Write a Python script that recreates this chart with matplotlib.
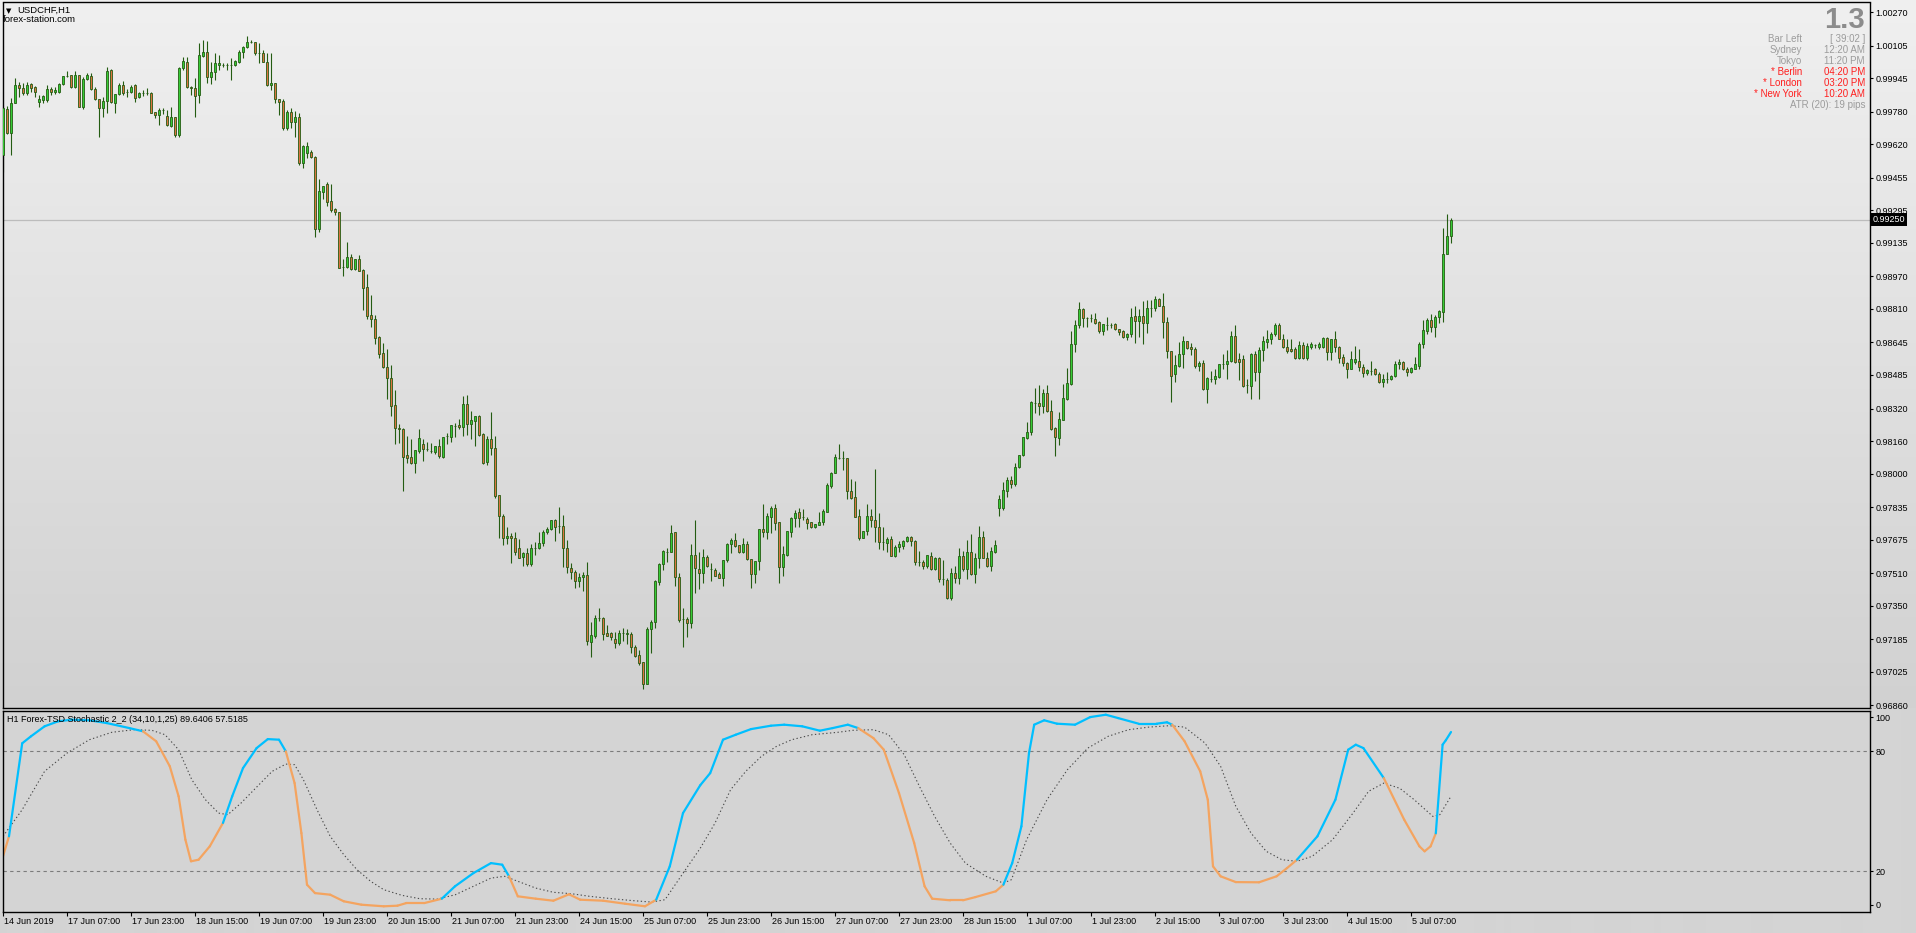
"""
USDCHF H1 candles with the Forex-TSD stochastic panel underneath,
laid out like the MT4 window it was captured from.
"""
import numpy as np
import matplotlib
matplotlib.use("Agg")
import matplotlib.pyplot as plt
from matplotlib.collections import LineCollection

plt.rcParams.update({
    "font.family": ["Liberation Sans", "DejaVu Sans"],
    "font.size": 6.5,
    "axes.linewidth": 1.0,
})

W, H = 1916, 933
WICK = "#245c12"; BULL = "#36cc36"; BEAR = "#dc7440"
UP = "#00bfff"; DN = "#f4a460"; GRY = "#9c9c9c"; RED = "#ff1e1e"

# ---- price data, in points (1e-5) -------------------------------------
opens = [
    99567, 99794, 99676, 99823, 99912, 99897, 99872, 99917, 99902, 99828, 99838, 99838, 99892, 99877, 99877, 99917, 99956, 99961, 99902, 99961,
    99804, 99941, 99956, 99892, 99843, 99799, 99833, 99986, 99823, 99868, 99912, 99877, 99877, 99912, 99853, 99872, 99872, 99872, 99779, 99764,
    99789, 99759, 99710, 99754, 99666, 99995, 100025, 99902, 99897, 99863, 100055, 100074, 99951, 99976, 100010, 100010, 100010, 100010, 100010, 100025,
    100074, 100099, 100123, 100123, 100069, 100069, 100025, 99912, 99922, 99843, 99833, 99700, 99779, 99730, 99754, 99528, 99577, 99582, 99558, 99203,
    99385, 99425, 99341, 99302, 99287, 99016, 99016, 99066, 99006, 99056, 99002, 98918, 98780, 98761, 98672, 98593, 98524, 98470, 98337, 98224,
    98219, 98091, 98082, 98052, 98111, 98146, 98121, 98111, 98106, 98136, 98082, 98185, 98180, 98234, 98239, 98229, 98342, 98244, 98259, 98283,
    98195, 98057, 98170, 98126, 97895, 97791, 97683, 97693, 97683, 97634, 97590, 97609, 97555, 97634, 97634, 97658, 97713, 97727, 97772, 97742,
    97742, 97634, 97535, 97516, 97471, 97491, 97501, 97171, 97201, 97289, 97289, 97216, 97216, 97186, 97166, 97216, 97211, 97211, 97147, 97107,
    97073, 96965, 97235, 97270, 97466, 97555, 97614, 97614, 97713, 97491, 97285, 97285, 97265, 97599, 97531, 97511, 97590, 97531, 97526, 97506,
    97486, 97575, 97654, 97673, 97649, 97614, 97654, 97580, 97506, 97570, 97727, 97713, 97786, 97831, 97762, 97540, 97599, 97713, 97782, 97811,
    97786, 97777, 97762, 97737, 97747, 97762, 97811, 97939, 98003, 98077, 98077, 98077, 97914, 97885, 97791, 97683, 97717, 97791, 97772, 97737,
    97663, 97658, 97678, 97594, 97639, 97644, 97668, 97688, 97668, 97565, 97565, 97545, 97594, 97530, 97585, 97481, 97476, 97388, 97511, 97486,
    97594, 97530, 97614, 97506, 97585, 97688, 97585, 97545, 97614, 97831, 97831, 97914, 97968, 97949, 98033, 98091, 98175, 98205, 98347, 98347,
    98332, 98396, 98308, 98224, 98175, 98264, 98367, 98440, 98637, 98731, 98810, 98765, 98765, 98760, 98746, 98701, 98731, 98731, 98736, 98711,
    98701, 98672, 98686, 98775, 98751, 98775, 98741, 98815, 98815, 98859, 98825, 98746, 98603, 98490, 98529, 98588, 98652, 98623, 98613, 98529,
    98544, 98416, 98465, 98465, 98475, 98539, 98539, 98554, 98677, 98564, 98564, 98436, 98431, 98588, 98500, 98608, 98647, 98662, 98686, 98731,
    98662, 98623, 98613, 98613, 98569, 98632, 98569, 98623, 98632, 98623, 98623, 98667, 98598, 98662, 98623, 98574, 98544, 98514, 98549, 98554,
    98524, 98495, 98505, 98514, 98490, 98451, 98465, 98465, 98480, 98539, 98549, 98514, 98500, 98514, 98529, 98637, 98701, 98756, 98721, 98770,
    98795, 99080, 99169,
]
highs = [
    99808, 99808, 99848, 99946, 99927, 99922, 99927, 99922, 99907, 99863, 99863, 99912, 99902, 99902, 99922, 99956, 99981, 99961, 99981, 99961,
    99951, 99971, 99971, 99902, 99843, 99853, 100000, 99991, 99868, 99922, 99932, 99892, 99912, 99917, 99877, 99887, 99897, 99877, 99779, 99799,
    99799, 99789, 99804, 99754, 100000, 100050, 100050, 99907, 99946, 100118, 100133, 100128, 100025, 100069, 100060, 100020, 100020, 100045, 100035, 100084,
    100104, 100153, 100133, 100123, 100118, 100084, 100069, 100069, 99922, 99843, 99843, 99789, 99799, 99784, 99774, 99617, 99631, 99592, 99563, 99449,
    99415, 99435, 99425, 99307, 99287, 99056, 99139, 99080, 99056, 99075, 99006, 98982, 98879, 98780, 98677, 98642, 98613, 98534, 98411, 98244,
    98224, 98185, 98170, 98116, 98219, 98170, 98156, 98150, 98136, 98170, 98180, 98200, 98239, 98249, 98269, 98382, 98387, 98308, 98283, 98288,
    98200, 98185, 98303, 98185, 97895, 97801, 97737, 97708, 97713, 97678, 97614, 97634, 97654, 97663, 97713, 97722, 97737, 97772, 97777, 97836,
    97796, 97673, 97560, 97526, 97511, 97516, 97565, 97270, 97304, 97339, 97294, 97255, 97221, 97221, 97230, 97240, 97235, 97221, 97157, 97132,
    97073, 97245, 97280, 97476, 97560, 97624, 97634, 97747, 97713, 97511, 97339, 97294, 97654, 97772, 97614, 97629, 97599, 97560, 97535, 97516,
    97575, 97658, 97683, 97708, 97649, 97683, 97668, 97580, 97570, 97727, 97850, 97806, 97841, 97850, 97762, 97644, 97717, 97786, 97821, 97831,
    97826, 97786, 97762, 97752, 97811, 97826, 97954, 98008, 98096, 98146, 98111, 98077, 97973, 97964, 97826, 97717, 97850, 97826, 98023, 97806,
    97737, 97688, 97693, 97649, 97668, 97673, 97693, 97693, 97673, 97619, 97575, 97599, 97614, 97590, 97590, 97575, 97486, 97535, 97545, 97634,
    97619, 97673, 97703, 97609, 97742, 97717, 97614, 97639, 97673, 97895, 97959, 97983, 97988, 98052, 98091, 98180, 98254, 98357, 98421, 98435,
    98416, 98435, 98362, 98229, 98303, 98440, 98519, 98701, 98756, 98844, 98815, 98770, 98785, 98790, 98751, 98736, 98770, 98741, 98741, 98711,
    98706, 98691, 98815, 98825, 98810, 98849, 98854, 98854, 98874, 98864, 98889, 98770, 98603, 98583, 98647, 98677, 98652, 98642, 98623, 98554,
    98559, 98475, 98505, 98514, 98539, 98588, 98608, 98701, 98731, 98593, 98583, 98465, 98593, 98603, 98623, 98677, 98706, 98697, 98741, 98741,
    98686, 98662, 98662, 98623, 98652, 98647, 98642, 98647, 98637, 98647, 98672, 98672, 98662, 98701, 98627, 98588, 98549, 98603, 98627, 98613,
    98539, 98514, 98554, 98519, 98500, 98490, 98500, 98485, 98554, 98564, 98554, 98524, 98524, 98574, 98647, 98756, 98765, 98785, 98780, 98805,
    99208, 99277, 99257,
]
lows = [
    99484, 99671, 99567, 99823, 99853, 99863, 99863, 99877, 99853, 99804, 99823, 99828, 99863, 99868, 99872, 99912, 99951, 99897, 99897, 99804,
    99794, 99936, 99887, 99838, 99656, 99754, 99774, 99823, 99774, 99863, 99863, 99853, 99872, 99828, 99848, 99858, 99863, 99774, 99749, 99715,
    99769, 99710, 99705, 99656, 99656, 99986, 99897, 99863, 99754, 99823, 100050, 99922, 99917, 99936, 99986, 100000, 99986, 99936, 100005, 100020,
    100045, 100094, 100118, 100060, 100020, 100025, 99907, 99887, 99823, 99764, 99690, 99690, 99700, 99656, 99518, 99503, 99553, 99553, 99164, 99189,
    99351, 99317, 99287, 99272, 99011, 98972, 99011, 99002, 99002, 98997, 98805, 98761, 98721, 98637, 98569, 98519, 98367, 98283, 98146, 98150,
    97914, 98052, 98047, 98003, 98101, 98062, 98111, 98101, 98096, 98077, 98077, 98146, 98156, 98180, 98219, 98185, 98190, 98170, 98136, 98185,
    98047, 98042, 98091, 97880, 97683, 97649, 97654, 97560, 97599, 97585, 97545, 97545, 97545, 97599, 97629, 97644, 97703, 97722, 97668, 97708,
    97540, 97511, 97481, 97437, 97442, 97422, 97157, 97098, 97191, 97275, 97181, 97201, 97181, 97142, 97157, 97176, 97162, 97117, 97098, 97058,
    96940, 96965, 97117, 97240, 97452, 97526, 97565, 97614, 97447, 97270, 97147, 97196, 97240, 97412, 97432, 97462, 97540, 97471, 97496, 97486,
    97447, 97565, 97609, 97639, 97609, 97609, 97575, 97437, 97462, 97526, 97688, 97678, 97708, 97722, 97462, 97496, 97594, 97688, 97737, 97737,
    97772, 97727, 97732, 97732, 97747, 97747, 97811, 97929, 98003, 98072, 98018, 97875, 97875, 97786, 97673, 97683, 97698, 97737, 97663, 97629,
    97624, 97614, 97594, 97590, 97614, 97629, 97663, 97644, 97550, 97545, 97530, 97535, 97526, 97526, 97466, 97452, 97383, 97378, 97462, 97457,
    97521, 97481, 97501, 97462, 97535, 97585, 97540, 97521, 97609, 97791, 97821, 97885, 97929, 97939, 98028, 98087, 98170, 98190, 98298, 98288,
    98298, 98303, 98214, 98087, 98141, 98264, 98362, 98435, 98598, 98716, 98721, 98721, 98746, 98736, 98691, 98682, 98706, 98716, 98706, 98682,
    98667, 98657, 98672, 98642, 98672, 98637, 98691, 98770, 98800, 98825, 98667, 98569, 98352, 98451, 98524, 98519, 98613, 98583, 98519, 98505,
    98411, 98347, 98451, 98441, 98470, 98514, 98465, 98549, 98544, 98460, 98426, 98396, 98367, 98456, 98367, 98554, 98618, 98637, 98677, 98662,
    98618, 98593, 98598, 98564, 98564, 98564, 98559, 98613, 98618, 98613, 98618, 98559, 98559, 98598, 98544, 98529, 98470, 98514, 98539, 98505,
    98475, 98485, 98485, 98485, 98446, 98426, 98446, 98460, 98475, 98514, 98510, 98480, 98495, 98514, 98514, 98618, 98686, 98697, 98672, 98741,
    98746, 99080, 99134,
]
closes = [
    99799, 99676, 99823, 99912, 99897, 99872, 99912, 99897, 99877, 99843, 99858, 99892, 99877, 99887, 99917, 99956, 99956, 99902, 99961, 99804,
    99941, 99961, 99892, 99843, 99799, 99833, 99981, 99828, 99868, 99912, 99872, 99877, 99902, 99848, 99872, 99872, 99872, 99774, 99764, 99789,
    99789, 99715, 99754, 99666, 99995, 100030, 99902, 99897, 99858, 100060, 100074, 99951, 99976, 100020, 100020, 100010, 100010, 100010, 100030, 100074,
    100099, 100123, 100123, 100069, 100069, 100025, 99912, 99922, 99843, 99828, 99700, 99779, 99730, 99754, 99528, 99612, 99612, 99558, 99203, 99390,
    99415, 99336, 99297, 99287, 99011, 99016, 99066, 99006, 99056, 98997, 98913, 98775, 98761, 98667, 98588, 98524, 98470, 98332, 98224, 98219,
    98082, 98077, 98052, 98116, 98175, 98121, 98121, 98111, 98136, 98087, 98180, 98185, 98239, 98234, 98229, 98342, 98244, 98264, 98283, 98190,
    98052, 98170, 98126, 97890, 97791, 97683, 97693, 97683, 97614, 97585, 97609, 97555, 97634, 97634, 97658, 97713, 97727, 97772, 97737, 97742,
    97634, 97540, 97516, 97471, 97491, 97501, 97176, 97206, 97289, 97289, 97211, 97201, 97196, 97166, 97216, 97216, 97216, 97147, 97102, 97068,
    96965, 97235, 97270, 97471, 97555, 97619, 97614, 97708, 97491, 97280, 97285, 97265, 97599, 97535, 97511, 97590, 97545, 97531, 97496, 97486,
    97575, 97654, 97673, 97644, 97614, 97654, 97580, 97506, 97570, 97727, 97713, 97791, 97831, 97757, 97540, 97604, 97717, 97782, 97806, 97782,
    97786, 97757, 97737, 97752, 97762, 97816, 97944, 98003, 98082, 98077, 98077, 97914, 97880, 97786, 97683, 97717, 97791, 97772, 97737, 97663,
    97663, 97678, 97594, 97639, 97654, 97668, 97688, 97668, 97565, 97565, 97545, 97599, 97530, 97585, 97481, 97481, 97388, 97511, 97486, 97594,
    97530, 97614, 97506, 97585, 97688, 97585, 97545, 97619, 97649, 97875, 97919, 97968, 97949, 98033, 98091, 98180, 98205, 98352, 98347, 98332,
    98396, 98308, 98219, 98180, 98269, 98372, 98446, 98637, 98731, 98810, 98765, 98765, 98765, 98741, 98701, 98736, 98731, 98731, 98711, 98697,
    98672, 98686, 98770, 98751, 98775, 98741, 98815, 98815, 98859, 98825, 98746, 98603, 98480, 98534, 98588, 98652, 98618, 98613, 98529, 98544,
    98416, 98470, 98465, 98480, 98539, 98539, 98554, 98677, 98549, 98549, 98431, 98436, 98588, 98500, 98608, 98652, 98662, 98686, 98731, 98662,
    98623, 98603, 98603, 98569, 98632, 98569, 98627, 98637, 98632, 98637, 98667, 98598, 98662, 98623, 98569, 98544, 98514, 98564, 98564, 98524,
    98495, 98510, 98505, 98490, 98451, 98465, 98465, 98480, 98539, 98549, 98514, 98500, 98519, 98539, 98637, 98706, 98756, 98721, 98770, 98800,
    99080, 99169, 99250,
]
last_price = 0.99250

price_ticks = [1.00270, 1.00105, 0.99945, 0.99780, 0.99620, 0.99455, 0.99295, 0.99135,
               0.98970, 0.98810, 0.98645, 0.98485, 0.98320, 0.98160, 0.98000, 0.97835,
               0.97675, 0.97510, 0.97350, 0.97185, 0.97025, 0.96860]

time_labels = ["14 Jun 2019", "17 Jun 07:00", "17 Jun 23:00", "18 Jun 15:00", "19 Jun 07:00",
               "19 Jun 23:00", "20 Jun 15:00", "21 Jun 07:00", "21 Jun 23:00", "24 Jun 15:00",
               "25 Jun 07:00", "25 Jun 23:00", "26 Jun 15:00", "27 Jun 07:00", "27 Jun 23:00",
               "28 Jun 15:00", "1 Jul 07:00", "1 Jul 23:00", "2 Jul 15:00", "3 Jul 07:00",
               "3 Jul 23:00", "4 Jul 15:00", "5 Jul 07:00"]
label_every = 16  # bars between time labels

# ---- stochastic (main + signal), bar index / value --------------------
stoch_x = [0, 1.5, 4.8, 7, 10.4, 13.8, 17.1, 21.6, 26, 31.6, 35, 38.3, 41.7, 43.9, 45.6, 47, 48.9,
           51.7, 55, 57.3, 60, 63.4, 66.2, 69, 70.7, 72.9, 74.6, 76, 78, 81.8, 85.2, 89.6, 95.2,
           98.6, 100.8, 105.3, 109.7, 113, 117.6, 122, 124.8, 126.5, 128.7, 133.2, 137.6, 141.5,
           144.3, 150, 155.5, 160.5, 163.3, 166.7, 170, 174.3, 176.8, 180, 183.2, 187, 192, 195.3,
           199.8, 204.2, 207.4, 211.2, 213.8, 217.6, 220.2, 224, 227.8, 230.4, 232.3, 236.8, 240,
           243.1, 248.2, 250.1, 252.3, 254.6, 256.5, 257.8, 260.3, 263.5, 268, 271.8, 275.7, 278.8,
           283.9, 288.4, 291, 292.3, 295.4, 299.3, 301.2, 302.5, 304.4, 308.2, 314, 318.4, 321,
           323.5, 328.6, 333.1, 336.3, 338.2, 340.1, 345.2, 350.3, 354.1, 355.4, 356.9, 358.2,
           359.9, 360.7, 362]
stoch_main = [27.5, 37.5, 84, 87.5, 92.5, 95, 95.8, 95.5, 94.1, 91.6, 90, 85, 72.5, 57.5, 35.8, 25,
              25.8, 32.5, 44.2, 57.5, 71.6, 81.6, 86.1, 85.8, 80, 64.1, 39.1, 13.3, 9.1, 8.3, 5,
              3.3, 2.5, 2.8, 4.1, 4.1, 6.3, 12.5, 19.1, 24.1, 23.3, 17.5, 7.5, 6.3, 5.3, 8.5, 5.8,
              5.3, 3.8, 2.5, 5.8, 22.5, 49.1, 63, 69.1, 85.8, 88.3, 91.1, 92.8, 93.3, 92.5, 90.3,
              91.6, 93.3, 91.6, 86.6, 80.8, 59.1, 34.1, 12.5, 6.3, 5.5, 5.5, 7.1, 10, 13.3, 24.1,
              42.5, 79.1, 93.3, 95.5, 93.8, 93.3, 97.1, 98.3, 96.6, 93.8, 93.8, 94.5, 93.3, 85, 70,
              55.8, 22.5, 17.5, 14.6, 14.5, 17.5, 21.6, 25.8, 37.5, 55.8, 80.8, 83.3, 81.6, 66.6,
              45.8, 32.5, 30, 32.5, 39, 83.3, 85.5, 89.64]
signal_x = [0, 4.8, 10.4, 16, 21.6, 27.2, 32.7, 37.2, 40.5, 43.9, 47.2, 50.6, 53.9, 56.2, 59.5, 64,
            67.3, 70.7, 72.9, 75.1, 78.5, 81.8, 85.2, 88.5, 91.9, 95.2, 99.7, 104.2, 108.6, 113.1,
            117.6, 122, 125.4, 128.7, 133.2, 137.6, 142.1, 146.6, 152.2, 157.7, 162.2, 165.5,
            168.9, 174.3, 178, 181.9, 185.7, 189.6, 193.4, 197.2, 202.3, 208.7, 212.5, 217.6,
            221.4, 225.3, 229.1, 232.9, 236.8, 240.6, 245.7, 250.1, 252.1, 255.9, 261, 266.1,
            271.2, 276.3, 281.4, 286.5, 291.6, 295.4, 300.5, 304.4, 308.2, 312, 315.8, 319.7,
            323.5, 327.3, 332.4, 337.5, 341.4, 345.2, 349.2, 352.8, 357.5, 359.2, 362]
signal = [37.5, 50.8, 70, 79.1, 85.8, 89.5, 90.8, 90.5, 88.3, 80.8, 65.8, 55.8, 49.1, 48.3, 54.1,
          63.3, 70, 73.6, 73.3, 65.8, 50.8, 37.5, 28.3, 20.8, 15, 10.8, 8, 6.3, 6.1, 8.3, 12.5,
          16.6, 17.5, 15, 11.6, 9.5, 8.8, 7.5, 6.3, 5.3, 4.6, 5.8, 15.8, 31.5, 44.1, 60.8, 70,
          77.5, 82.5, 85.8, 88.3, 89.5, 90.5, 90.8, 88.3, 78.3, 62.5, 47.5, 34.1, 24.1, 17.5,
          14.1, 15.8, 35.8, 55.8, 70.8, 81.6, 87.5, 90.8, 92.1, 92.8, 92.1, 84.1, 72.5, 52.5,
          39.1, 30, 25.8, 25, 27.5, 35.8, 49.1, 60, 64.1, 61.5, 55.8, 47.4, 48.3, 57.52]
levels = [80, 20]


def box(x0, y0, x1, y1):
    # pixel rectangle (top-left origin) -> figure fraction
    return [x0 / W, 1 - y1 / H, (x1 - x0) / W, (y1 - y0) / H]


def ftext(x, y, s, **kw):
    return plt.gcf().text(x / W, 1 - y / H, s, va="center", **kw)


def main():
    fig = plt.figure(figsize=(W / 100, H / 100), dpi=100)

    # window background: vertical gradient behind the price pane, flat grey below
    bg = fig.add_axes([0, 0, 1, 1]); bg.axis("off")
    rows = np.arange(H)
    t = np.clip(rows / 708.0, 0, 1)[:, None]
    grad = (np.array([0xf0] * 3) * (1 - t) + np.array([0xd1] * 3) * t) / 255
    grad[rows >= 708] = 0xd4 / 255
    bg.imshow(grad[:, None, :], aspect="auto", extent=[0, 1, 0, 1], interpolation="bilinear")

    # ---- price pane ------------------------------------------------------
    ax = fig.add_axes(box(2.5, 2.5, 1870, 708))
    ax.set_facecolor("none")
    O = np.array(opens) / 1e5; Hh = np.array(highs) / 1e5
    L = np.array(lows) / 1e5; C = np.array(closes) / 1e5
    x = np.arange(len(C))
    ax.axhline(last_price, color="#bcbcbc", lw=0.9, zorder=1)
    ax.vlines(x, L, Hh, color=WICK, lw=0.8, zorder=2)
    ax.bar(x, C - O, bottom=O, width=0.62, color=np.where(C >= O, BULL, BEAR),
           edgecolor=WICK, linewidth=0.6, zorder=3)
    ax.set_xlim(-0.125, 466.75)
    ax.set_ylim(0.968466, 1.003177)
    ax.set_xticks([])
    ax.yaxis.tick_right()
    ax.set_yticks(price_ticks)
    ax.set_yticklabels([f"{p:.5f}" for p in price_ticks])
    ax.tick_params(axis="y", direction="out", length=2.5, width=0.8, pad=1.5, labelsize=6.5)
    ax.text(1.0016, last_price, f"{last_price:.5f}", transform=ax.get_yaxis_transform(),
            ha="left", va="center", color="white", fontsize=6.5, zorder=5,
            bbox=dict(boxstyle="square,pad=0.18", fc="black", ec="none"))

    # header texts
    ftext(6, 11, "\u25bc", fontsize=5, family=["DejaVu Sans"])
    ftext(17, 10.5, "USDCHF,H1", fontsize=6.8)
    ftext(3, 19, "forex-station.com", fontsize=6.8)
    ftext(1865, 19.5, "1.3", fontsize=21, fontweight="bold", color="#8c8c8c", ha="right")
    info = [("Bar Left", "[ 39:02 ]", GRY), ("Sydney", "12:20 AM", GRY),
            ("Tokyo", "11:20 PM", GRY), ("* Berlin", "04:20 PM", RED),
            ("* London", "03:20 PM", RED), ("* New York", "10:20 AM", RED)]
    for k, (lab, val, col) in enumerate(info):
        y = 38.7 + 11 * k
        ftext(1802, y, lab, fontsize=7, color=col, ha="right")
        ftext(1865, y, val, fontsize=7, color=col, ha="right")
    ftext(1865, 104.7, "ATR (20): 19 pips", fontsize=7, color=GRY, ha="right")

    # ---- stochastic pane ---------------------------------------------------
    a2 = fig.add_axes(box(2.5, 710.5, 1870, 912))
    a2.set_facecolor("#d4d4d4")
    a2.set_xlim(-0.125, 466.75)
    a2.set_ylim(-0.35, 100.4)
    for lv in levels:
        a2.axhline(lv, color="#7c7c7c", lw=0.8, ls=(0, (3, 3)))
    a2.plot(signal_x, signal, color="#4a4a4a", lw=0.8, ls=(0, (1.2, 2.2)))
    sx = np.array(stoch_x); sv = np.array(stoch_main)
    pts = np.column_stack([sx, sv])
    segs = np.stack([pts[:-1], pts[1:]], axis=1)
    mid_x = (sx[:-1] + sx[1:]) / 2; mid_v = (sv[:-1] + sv[1:]) / 2
    above = mid_v >= np.interp(mid_x, signal_x, signal)
    a2.add_collection(LineCollection(segs, colors=np.where(above, UP, DN), linewidths=1.6,
                                     capstyle="round", joinstyle="round"))
    a2.text(0.0025, 0.955, "H1 Forex-TSD Stochastic 2_2 (34,10,1,25) 89.6406 57.5185",
            transform=a2.transAxes, ha="left", va="center", fontsize=6.5)
    a2.yaxis.tick_right()
    a2.set_yticks([97.0, 80, 20, 3.2])
    a2.set_yticklabels(["100", "80", "20", "0"])
    a2.tick_params(axis="y", direction="out", length=2.5, width=0.8, pad=1.5, labelsize=6.5)
    ticks = np.arange(len(time_labels)) * label_every
    a2.set_xticks(ticks)
    a2.set_xticklabels([])
    a2.tick_params(axis="x", direction="out", length=3, width=0.8)
    for tk, lab in zip(ticks, time_labels):
        a2.text(tk + 0.25, -0.045, lab, transform=a2.get_xaxis_transform(),
                ha="left", va="center", fontsize=6.5)

    fig.savefig("out.png", dpi=100)
    plt.close(fig)


if __name__ == "__main__":
    main()
